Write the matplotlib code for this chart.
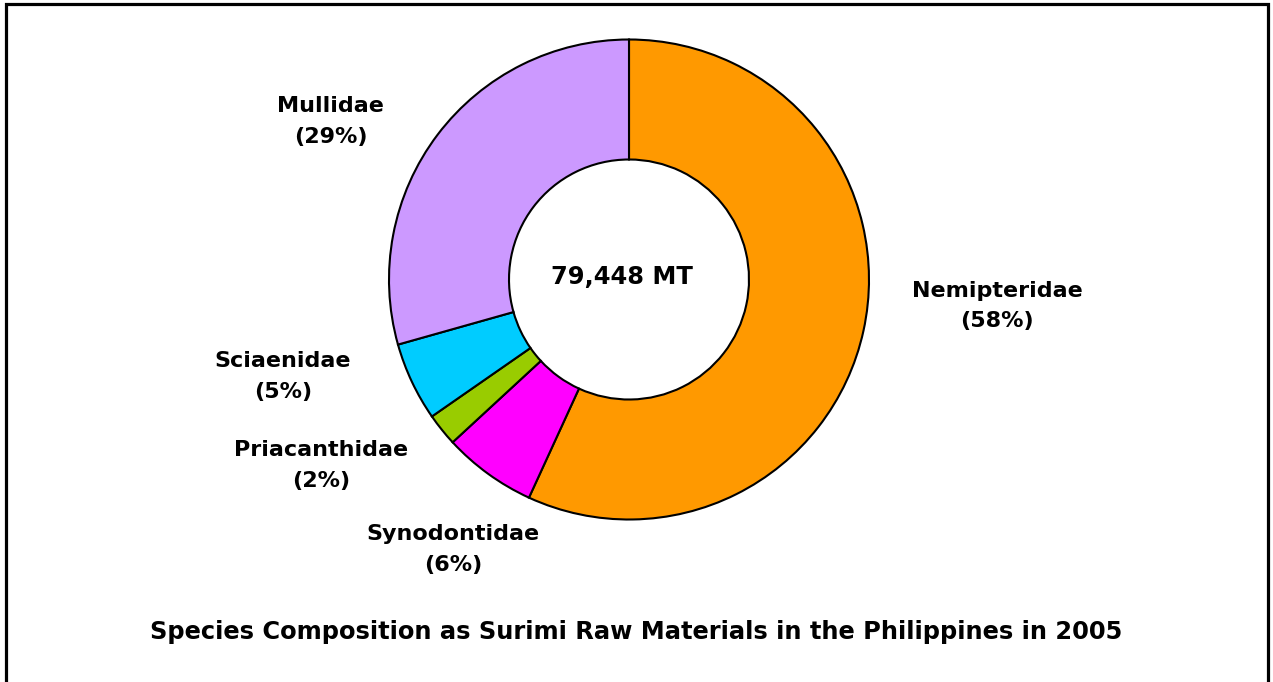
import matplotlib
matplotlib.use("Agg")
import matplotlib.pyplot as plt
from matplotlib.patches import Rectangle

# species shares (clockwise from 12 o'clock)
species = ["Nemipteridae", "Synodontidae", "Priacanthidae", "Sciaenidae", "Mullidae"]
shares = [56.9, 6.3, 2.2, 5.3, 29.4]
pct_text = ["58%", "6%", "2%", "5%", "29%"]
total_text = "79,448 MT"
title = "Species Composition as Surimi Raw Materials in the Philippines in 2005"

colors = ["#FF9900", "#FF00FF", "#99CC00", "#00CCFF", "#CC99FF"]
# label positions in units of the ring radius
label_xy = [(1.533, -0.11), (-0.733, -1.125), (-1.283, -0.775),
            (-1.442, -0.404), (-1.242, 0.658)]

W, H = 1273, 682
cx, cy, R = 629, 279.5, 240

fig = plt.figure(figsize=(W / 100, H / 100), dpi=100)
ax = fig.add_axes([0, 0, 1, 1])
ax.pie(shares, colors=colors, startangle=90, counterclock=False, radius=1,
       wedgeprops=dict(width=0.5, edgecolor="black", linewidth=1.5))
ax.set_xlim(-cx / R, (W - cx) / R)
ax.set_ylim(-(H - cy) / R, cy / R)
ax.set_aspect("equal")
ax.axis("off")

for name, pct, (x, y) in zip(species, pct_text, label_xy):
    ax.text(x, y, f"{name}\n({pct})", ha="center", va="center",
            fontsize=16, fontweight="bold", linespacing=1.65)

ax.text(-0.03, 0.01, total_text, ha="center", va="center", fontsize=17.4, fontweight="bold")

fig.text(636 / W, 1 - 632 / H, title, ha="center", va="center",
         fontsize=17.4, fontweight="bold")

fig.patches.append(Rectangle((6 / W, -0.02), (1268 - 6) / W, 1.02 - 4 / H,
                             transform=fig.transFigure, fill=False,
                             edgecolor="black", linewidth=2.3))

fig.savefig("out.png", dpi=100)
